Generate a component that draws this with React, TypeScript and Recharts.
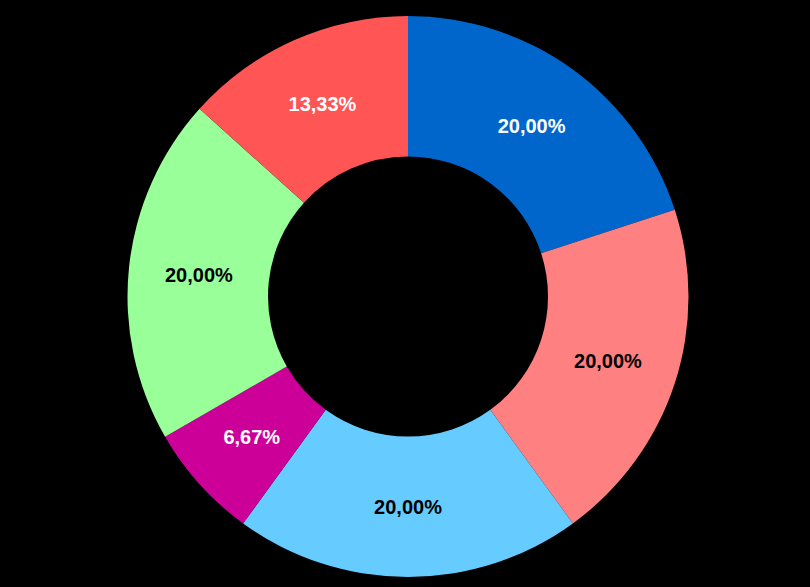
import React from "react";
import { PieChart, Pie, Cell } from "recharts";

const categories = ["A", "B", "C", "D", "E", "F"];
const values = [3, 3, 3, 1, 3, 2];
const colors = ["#0066CC", "#FF8080", "#66CCFF", "#CC0099", "#99FF99", "#FF5555"];
const labelColors = ["#FFFFFF", "#000000", "#000000", "#FFFFFF", "#000000", "#FFFFFF"];

const total = values.reduce((a, b) => a + b, 0);
const data = categories.map((name, i) => ({ name, value: values[i] }));

const RAD = Math.PI / 180;

const renderLabel = (props: any) => {
  const { cx, cy, midAngle, innerRadius, outerRadius, index, value } = props;
  const r = (innerRadius + outerRadius) / 2;
  const x = cx + r * Math.cos(-midAngle * RAD);
  const y = cy + r * Math.sin(-midAngle * RAD);
  const pct = ((value / total) * 100).toFixed(2).replace(".", ",") + "%";
  return (
    <text
      x={x}
      y={y}
      fill={labelColors[index]}
      textAnchor="middle"
      dominantBaseline="central"
      fontFamily="'Liberation Sans', Arial, sans-serif"
      fontWeight="bold"
      fontSize={20}
    >
      {pct}
    </text>
  );
};

export default function App() {
  return (
    <div style={{ position: "fixed", left: 0, top: 0, width: 810, height: 587, background: "#000" }}>
      <PieChart width={810} height={587} margin={{ top: 0, right: 0, bottom: 0, left: 0 }}>
        <Pie
          data={data}
          dataKey="value"
          nameKey="name"
          cx={408}
          cy={296.5}
          innerRadius={140}
          outerRadius={280.5}
          startAngle={90}
          endAngle={-270}
          stroke="none"
          label={renderLabel}
          labelLine={false}
          isAnimationActive={false}
        >
          {data.map((d, i) => (
            <Cell key={d.name} fill={colors[i]} />
          ))}
        </Pie>
      </PieChart>
    </div>
  );
}
